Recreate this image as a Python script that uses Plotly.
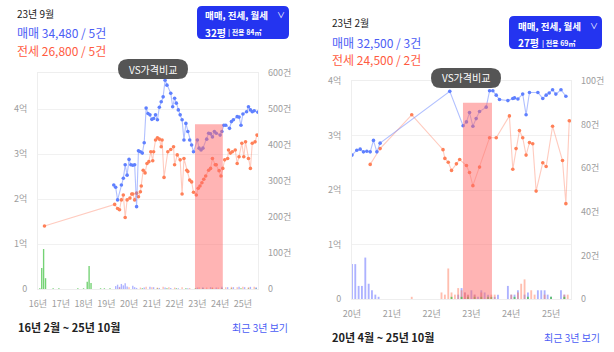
import plotly.graph_objects as go

FONT = "Noto Sans CJK KR"
W, H = 614, 352

# ---------------- DATA ----------------
# Left chart (32평): 매매 / 전세 prices in 만원
L_sale_dates = ["2019-06","2019-07","2019-08","2019-10","2019-11","2019-12","2020-01","2020-02","2020-03","2020-04",
                "2020-05","2020-06","2020-07","2020-08","2020-09","2020-10","2020-11","2020-12","2021-01","2021-02",
                "2021-03","2021-04","2021-05","2021-06","2021-07","2021-08","2021-09","2021-10","2021-12","2022-01",
                "2022-02","2022-03","2022-04","2022-05","2022-06","2022-07","2022-08","2022-09","2022-10","2022-11",
                "2022-12","2023-02","2023-03","2023-04","2023-05","2023-07","2023-08","2023-09","2023-10","2023-11",
                "2023-12","2024-02","2024-03","2024-04","2024-05","2024-07","2024-08","2024-09","2024-11","2024-12",
                "2025-01","2025-02","2025-04","2025-05","2025-06","2025-07","2025-08","2025-10"]
L_sale_prices = [23100,22600,19800,23100,24600,27600,25300,28800,27600,27500,
                 27600,18300,30700,30500,30200,32500,40200,39000,38700,37700,
                 37900,38700,37600,40400,41600,42700,46400,45300,43500,40500,
                 42400,41300,39800,38700,37600,33100,36800,35000,33100,32000,
                 30500,33100,31300,30900,31300,33300,34600,34480,33800,35000,
                 34600,34200,35000,36400,36400,35700,37200,37600,38300,38200,
                 36400,38900,39400,40500,39800,39400,39600,39300]
L_rent_dates = ["2016-05-15","2019-06-15","2019-08-01","2019-09-01","2019-10-01","2019-11-01","2019-12-01","2020-01-01",
                "2020-02-15","2020-03-15","2020-04-01","2020-05-01","2020-06-01","2020-07-01","2020-08-01","2020-08-15",
                "2020-09-15","2020-10-15","2020-11-15","2020-12-15","2021-01-15","2021-02-15","2021-03-01","2021-04-01",
                "2021-05-01","2021-06-01","2021-07-01","2021-07-15","2021-08-15","2021-10-15","2021-12-01","2022-01-15",
                "2022-02-01","2022-03-15","2022-05-01","2022-06-01","2022-07-01","2022-08-15","2022-09-01","2022-10-01",
                "2022-11-01","2022-12-01","2023-01-15","2023-02-15","2023-03-15","2023-04-15","2023-05-15","2023-06-15",
                "2023-08-01","2023-09-01","2023-10-01","2023-11-15","2023-12-01","2024-01-15","2024-02-15","2024-03-15",
                "2024-04-15","2024-06-01","2024-06-15","2024-07-15","2024-08-15","2024-10-01","2024-11-01","2024-12-01",
                "2025-01-15","2025-02-15","2025-03-15","2025-05-01","2025-06-01","2025-07-01","2025-08-15","2025-09-15"]
L_rent_prices = [14000,18800,17900,17600,19800,20900,15900,19800,
                 20200,21100,21100,19800,21300,20500,21600,22900,
                 26400,25800,27900,28300,30500,28500,30500,33100,
                 33600,33300,31600,33100,24800,30500,31000,31600,
                 27600,29800,28700,21100,29000,26400,26100,24200,
                 23800,21500,20900,22400,22900,23600,24400,25100,
                 26400,26800,29000,27600,27600,26300,25100,26800,
                 28700,29000,30900,30200,30500,30900,27900,29400,
                 32400,29400,32700,29000,26800,32400,32700,34200]
# Left chart monthly transaction counts (건)
L_cnt_monthly_dates = ["2016-03","2016-04","2016-05","2016-06","2016-10","2017-01","2017-11","2018-02","2018-04","2018-05",
                       "2018-06","2018-11","2019-01","2019-04","2020-09","2021-05","2021-10","2022-03","2022-08","2023-01",
                       "2023-05","2023-10","2024-03","2024-08","2025-01","2025-05","2025-09"]
L_cnt_monthly = [2,58,111,30,2,2,2,2,20,64,
                 17,2,2,2,2,2,2,2,2,2,
                 2,2,2,2,2,2,2]
L_cnt_sale_dates = ["2019-07","2019-08","2019-09","2019-10","2019-11","2019-12","2020-01","2020-04","2020-05","2020-06",
                    "2020-10","2021-01","2021-03","2021-06","2021-09","2021-12","2022-04","2022-09","2023-02","2023-05",
                    "2023-09","2023-12","2024-03","2024-06","2024-09","2024-12","2025-03","2025-06","2025-09"]
L_cnt_sale = [8,12,6,14,10,16,7,9,5,3,
              4,6,5,3,4,3,2,2,4,5,
              5,4,6,5,5,6,5,6,5]
L_cnt_rent_dates = ["2019-09","2020-02","2020-08","2020-11","2021-02","2021-05","2021-08","2021-11","2022-02","2022-06",
                    "2022-10","2023-03","2023-07","2023-10","2024-01","2024-05","2024-08","2024-11","2025-02","2025-05","2025-08"]
L_cnt_rent = [4,5,4,6,5,4,6,5,4,5,
              3,5,4,5,4,5,6,5,6,5,6]

L_range = ["2016-02-01", "2025-10-01"]
L_tick_dates = ["2016-02-01","2017-02-01","2018-02-01","2019-02-01","2020-02-01",
                "2021-02-01","2022-02-01","2023-02-01","2024-02-01","2025-02-01"]
L_tick_text = ["16년","17년","18년","19년","20년","21년","22년","23년","24년","25년"]
L_price_ticks = [0, 10000, 20000, 30000, 40000]
L_price_text = ["0", "1억", "2억", "3억", "4억"]
L_price_max = 48000
L_cnt_ticks = [0, 100, 200, 300, 400, 500, 600]
L_cnt_text = ["0", "100건", "200건", "300건", "400건", "500건", "600건"]
L_hl = ("2022-12-25", "2024-03-15", 36600)

# Right chart (27평)
R_sale_dates = ["2020-04-01","2020-05-15","2020-06-15","2020-07-15","2020-08-15","2020-09-15","2020-10-15","2020-11-15",
                "2020-12-15","2022-09-15","2023-01-15","2023-02-15","2023-03-15","2023-04-15","2023-05-15","2023-06-15",
                "2023-08-15","2023-09-15","2023-10-15","2023-11-15","2023-12-15","2024-03-01","2024-04-15","2024-05-01",
                "2024-06-01","2024-07-15","2024-08-15","2024-09-15","2024-12-01","2025-01-15","2025-02-15","2025-03-15",
                "2025-04-15","2025-05-15","2025-07-01","2025-08-15"]
R_sale_prices = [26400,27300,27500,27000,27100,27000,29100,27000,
                 28600,38100,31800,32500,34200,31700,33100,34400,
                 35200,38200,38200,37400,36600,36400,36800,36900,
                 36700,37600,33800,37900,37900,36800,37400,37800,
                 38400,37600,38400,37200]
R_rent_dates = ["2020-09-15","2020-12-15","2021-10-01","2022-07-15","2022-08-01","2022-09-01","2022-10-01","2022-11-15",
                "2022-12-15","2023-02-15","2023-03-15","2023-04-15","2023-06-15","2023-09-15","2023-11-15","2024-03-15",
                "2024-04-15","2024-05-15","2024-06-15","2024-07-15","2024-08-15","2024-09-15","2024-10-15","2024-11-15",
                "2025-01-15","2025-02-15","2025-04-15","2025-07-15","2025-08-15","2025-09-15"]
R_rent_prices = [24700,27600,33800,27400,25800,25100,23600,24800,
                 25600,24500,23200,20800,24200,29600,29600,33600,
                 23800,27600,30900,29600,26400,28700,28500,19800,
                 25000,24300,31700,25400,17500,32700]
R_cnt_sale_dates = ["2020-04","2020-05","2020-06","2020-07","2020-08","2020-09","2020-10","2020-11","2020-12",
                    "2022-12","2023-01","2023-02","2023-03","2023-04","2023-05","2023-06","2023-07","2023-08","2023-09",
                    "2023-11","2023-12","2024-03","2024-04","2024-05","2024-06","2024-08","2024-09","2024-12","2025-01",
                    "2025-02","2025-03","2025-04","2025-07","2025-08"]
R_cnt_sale = [16,16,6,6,19,7,4,2,1,
              2,5,3,2,4,2,1,4,3,2,
              1,2,6,2,2,4,2,3,4,4,
              4,2,1,4,2]
R_cnt_rent_dates = ["2021-10","2022-07","2022-08","2022-09","2022-10","2022-11","2022-12","2023-01","2023-02","2023-03",
                    "2023-05","2023-07","2023-10","2023-11","2024-04","2024-06","2024-07","2024-08","2024-10","2024-11",
                    "2025-02","2025-08","2025-09"]
R_cnt_rent = [1,3,2,14,3,2,5,4,3,2,
              2,3,2,2,2,3,7,9,4,2,
              2,2,2]
R_cnt_monthly_dates = ["2022-10","2023-01","2023-03","2023-05","2023-07","2023-09","2023-10","2024-05","2024-09","2025-04","2025-08"]
R_cnt_monthly = [1,1,1,1,1,1,1,1,1,1,1]

R_range = ["2020-04-01", "2025-10-01"]
R_tick_dates = ["2020-04-01","2021-04-01","2022-04-01","2023-04-01","2024-04-01","2025-04-01"]
R_tick_text = ["20년","21년","22년","23년","24년","25년"]
R_price_ticks = [0, 10000, 20000, 30000, 40000]
R_price_text = ["0", "1억", "2억", "3억", "4억"]
R_price_max = 40000
R_cnt_ticks = [0, 20, 40, 60, 80, 100]
R_cnt_text = ["0", "20건", "40건", "60건", "80건", "100건"]
R_hl = ("2023-01-14", "2023-10-07", 36000)

# ---------------- STYLE ----------------
BLUE_LINE = "rgba(100,130,255,0.5)"
BLUE_MK = "#5f80ff"
RED_LINE = "rgba(255,125,95,0.4)"
RED_MK = "#ff8058"
BAR_BLUE = "rgba(105,115,255,0.55)"
BAR_RED = "rgba(255,125,95,0.5)"
BAR_GREEN = "rgba(70,195,70,0.75)"
TXT_BLUE = "#4b5cf5"
TXT_RED = "#ff5b3f"
TICK_FONT = dict(family=FONT, size=9, color="#9d9d9d")
DAY = 86400000


def px(x):
    return x / W


def py(y):
    return 1 - y / H


def rrect(x0, y0, x1, y1, r):
    pts = [
        f"M{px(x0 + r)},{py(y0)}", f"L{px(x1 - r)},{py(y0)}",
        f"Q{px(x1)},{py(y0)} {px(x1)},{py(y0 + r)}", f"L{px(x1)},{py(y1 - r)}",
        f"Q{px(x1)},{py(y1)} {px(x1 - r)},{py(y1)}", f"L{px(x0 + r)},{py(y1)}",
        f"Q{px(x0)},{py(y1)} {px(x0)},{py(y1 - r)}", f"L{px(x0)},{py(y0 + r)}",
        f"Q{px(x0)},{py(y0)} {px(x0 + r)},{py(y0)}", "Z",
    ]
    return " ".join(pts)


fig = go.Figure()


def bars(d, v, color, xa, ya, wd):
    fig.add_trace(go.Bar(x=d, y=v, width=wd * DAY, marker=dict(color=color, line_width=0),
                         xaxis=xa, yaxis=ya, hoverinfo="skip", showlegend=False))


def line(d, v, lc, mc, xa, ya):
    fig.add_trace(go.Scatter(x=d, y=v, mode="lines+markers", line=dict(color=lc, width=1.1),
                             marker=dict(color=mc, size=3.6), xaxis=xa, yaxis=ya,
                             hoverinfo="skip", showlegend=False))


# left chart
bars(L_cnt_monthly_dates, L_cnt_monthly, BAR_GREEN, "x", "y2", 22)
bars(L_cnt_sale_dates, L_cnt_sale, BAR_BLUE, "x", "y2", 22)
bars(L_cnt_rent_dates, L_cnt_rent, BAR_RED, "x", "y2", 22)
line(L_rent_dates, L_rent_prices, RED_LINE, RED_MK, "x", "y")
line(L_sale_dates, L_sale_prices, BLUE_LINE, BLUE_MK, "x", "y")
# right chart
bars(R_cnt_sale_dates, R_cnt_sale, BAR_BLUE, "x2", "y4", 17)
bars(R_cnt_rent_dates, R_cnt_rent, BAR_RED, "x2", "y4", 17)
bars(R_cnt_monthly_dates, R_cnt_monthly, BAR_GREEN, "x2", "y4", 17)
line(R_rent_dates, R_rent_prices, RED_LINE, RED_MK, "x2", "y3")
line(R_sale_dates, R_sale_prices, BLUE_LINE, BLUE_MK, "x2", "y3")


def xax(dom, rng, tv, tt, anchor):
    return dict(domain=dom, type="date", range=rng, tickvals=tv, ticktext=tt, showgrid=False,
                showline=True, linecolor="#eeeeee", mirror=True, ticks="", tickfont=TICK_FONT,
                anchor=anchor, fixedrange=True, automargin=False, ticklabelstandoff=6, zeroline=False)


def yax(dom, mx, tv, tt, anchor):
    return dict(domain=dom, range=[0, mx], tickvals=tv, ticktext=tt, showgrid=True, gridcolor="#f1f1f1",
                showline=True, linecolor="#eeeeee", mirror=True, ticks="", tickfont=TICK_FONT,
                anchor=anchor, fixedrange=True, automargin=False, zeroline=False, ticklabelstandoff=8)


def y2ax(mx, tv, tt, anchor, over):
    return dict(range=[0, mx], tickvals=tv, ticktext=tt, showgrid=False, overlaying=over, side="right",
                anchor=anchor, ticks="", tickfont=TICK_FONT, fixedrange=True, automargin=False,
                zeroline=False, showline=False, ticklabelstandoff=9)


L_dom_x = [px(38), px(258)]
L_dom_y = [py(289), py(73)]
R_dom_x = [px(352), px(571)]
R_dom_y = [py(299), py(81)]

shapes = [
    dict(type="rect", xref="x", yref="y", x0=L_hl[0], x1=L_hl[1], y0=0, y1=L_hl[2],
         fillcolor="rgba(255,105,105,0.5)", line_width=0, layer="above"),
    dict(type="rect", xref="x2", yref="y3", x0=R_hl[0], x1=R_hl[1], y0=0, y1=R_hl[2],
         fillcolor="rgba(255,105,105,0.5)", line_width=0, layer="above"),
    dict(type="path", xref="paper", yref="paper", path=rrect(197, 6, 289, 39, 5),
         fillcolor="#2434f0", line_width=0, layer="above"),
    dict(type="path", xref="paper", yref="paper", path=rrect(509, 16, 602, 49, 5),
         fillcolor="#2434f0", line_width=0, layer="above"),
    dict(type="path", xref="paper", yref="paper", path=rrect(118, 59, 188, 79, 10),
         fillcolor="#555555", line_width=0, layer="above"),
    dict(type="path", xref="paper", yref="paper", path=rrect(431, 68, 501, 88, 10),
         fillcolor="#555555", line_width=0, layer="above"),
]


def ann(text, x, y, size, color, anchor="left", bold=False):
    return dict(text=(f"<b>{text}</b>" if bold else text), x=px(x), y=py(y), xref="paper", yref="paper",
                xanchor=anchor, yanchor="middle", showarrow=False,
                font=dict(family=FONT, size=size, color=color))


annotations = [
    ann("23년 9월", 15, 13, 10, "#222222"),
    ann("매매 34,480 / 5건", 15, 32, 12, TXT_BLUE),
    ann("전세 26,800 / 5건", 15, 50, 12, TXT_RED),
    ann("매매, 전세, 월세", 203, 15, 9.5, "white", bold=True),
    ann("∨", 275, 15, 8, "white"),
    ann("32평", 203, 32, 10, "white", bold=True),
    ann("| 전용 84㎡", 226, 32.5, 7, "white", bold=True),
    ann("VS가격비교", 153, 69, 10, "white", anchor="center"),
    ann("16년 2월 ~ 25년 10월", 16, 327, 11, "#222222", bold=True),
    ann("최근 3년 보기", 290, 327, 10, TXT_BLUE, anchor="right"),

    ann("23년 2월", 330, 23, 10, "#222222"),
    ann("매매 32,500 / 3건", 330, 42, 12, TXT_BLUE),
    ann("전세 24,500 / 2건", 330, 60, 12, TXT_RED),
    ann("매매, 전세, 월세", 516, 26, 9.5, "white", bold=True),
    ann("∨", 588, 26, 8, "white"),
    ann("27평", 516, 42, 10, "white", bold=True),
    ann("| 전용 69㎡", 540, 42.5, 7, "white", bold=True),
    ann("VS가격비교", 466, 78, 10, "white", anchor="center"),
    ann("20년 4월 ~ 25년 10월", 330, 337, 11, "#222222", bold=True),
    ann("최근 3년 보기", 602, 337, 10, TXT_BLUE, anchor="right"),
]

fig.update_layout(
    width=W, height=H, margin=dict(l=0, r=0, t=0, b=0, pad=0),
    paper_bgcolor="white", plot_bgcolor="white", barmode="overlay", showlegend=False,
    font=dict(family=FONT),
    xaxis=xax(L_dom_x, L_range, L_tick_dates, L_tick_text, "y"),
    yaxis=yax(L_dom_y, L_price_max, L_price_ticks, L_price_text, "x"),
    yaxis2=y2ax(600, L_cnt_ticks, L_cnt_text, "x", "y"),
    xaxis2=xax(R_dom_x, R_range, R_tick_dates, R_tick_text, "y3"),
    yaxis3=yax(R_dom_y, R_price_max, R_price_ticks, R_price_text, "x2"),
    yaxis4=y2ax(100, R_cnt_ticks, R_cnt_text, "x2", "y3"),
    shapes=shapes, annotations=annotations,
)

fig.write_html("out.html")
